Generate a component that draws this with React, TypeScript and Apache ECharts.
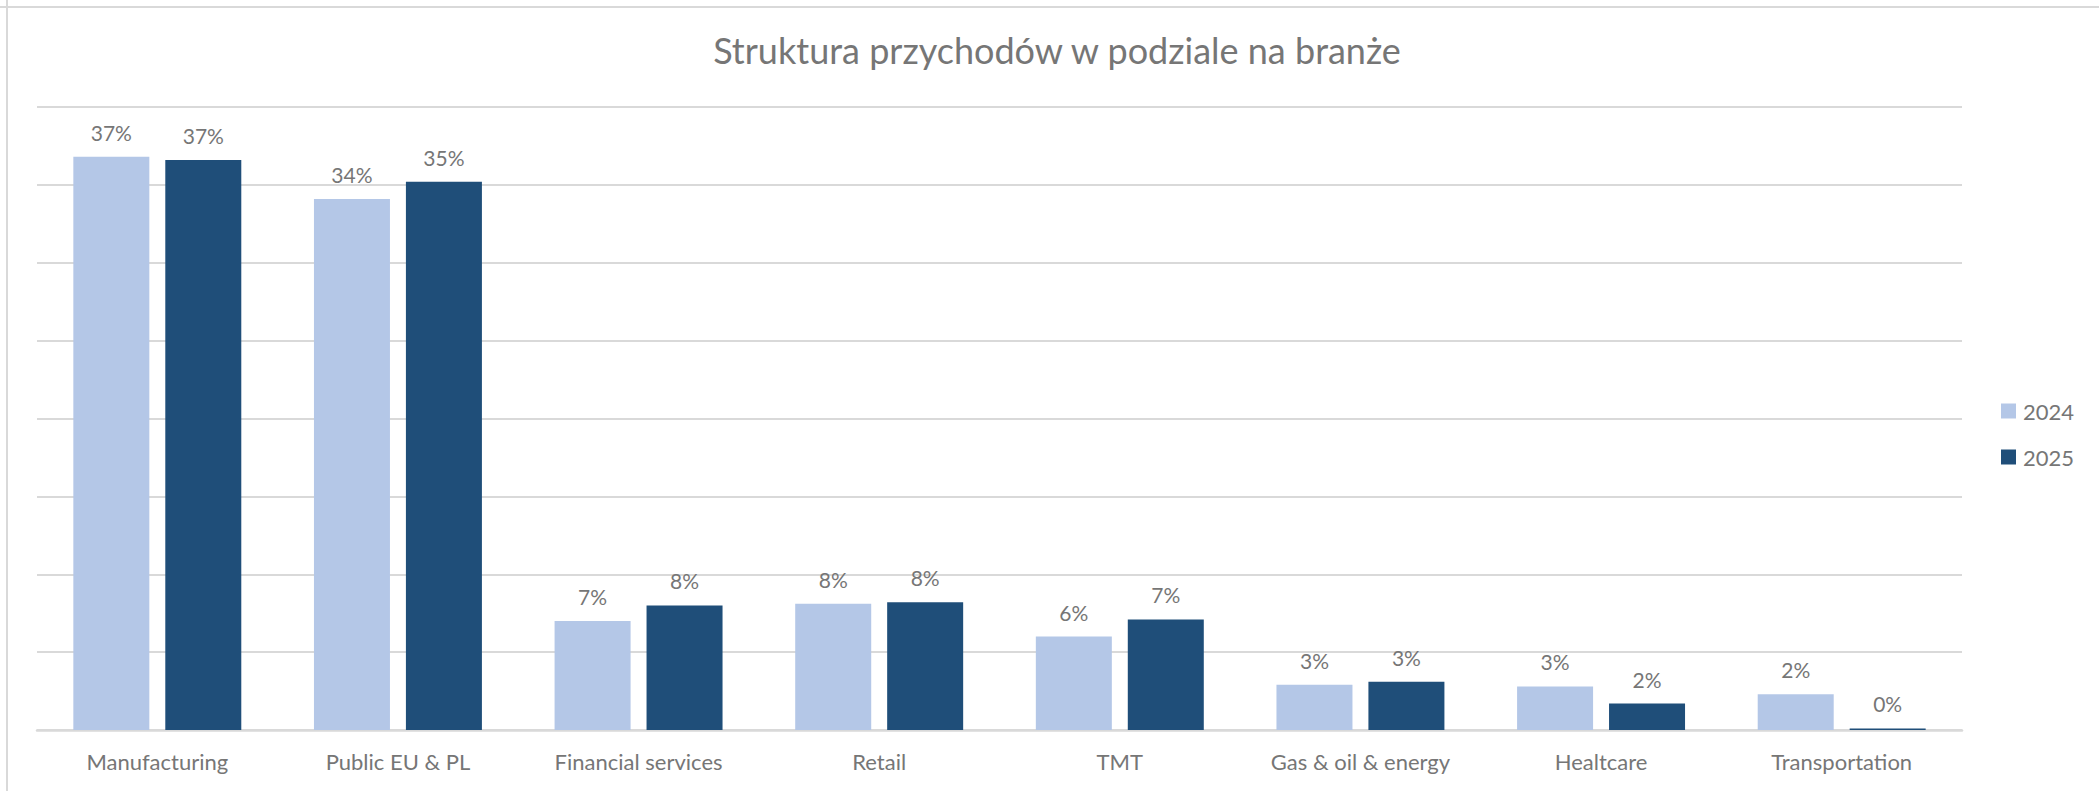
import React, { useEffect, useRef } from "react";
import * as echarts from "echarts";

const categories = [
  "Manufacturing",
  "Public EU & PL",
  "Financial services",
  "Retail",
  "TMT",
  "Gas & oil & energy",
  "Healtcare",
  "Transportation",
];
const values2024 = [36.8, 34.1, 7.0, 8.1, 6.0, 2.9, 2.8, 2.3];
const values2025 = [36.6, 35.2, 8.0, 8.2, 7.1, 3.1, 1.7, 0.1];
const seriesNames = ["2024", "2025"];
const titleText = "Struktura przychodów w podziale na branże";

const FONT = "Lato, 'Open Sans', sans-serif";
const TEXT = "#767676";

export default function App() {
  const ref = useRef<HTMLDivElement>(null);
  useEffect(() => {
    if (!ref.current) return;
    const chart = echarts.init(ref.current, undefined, { renderer: "svg" });
    const labelCfg = {
      show: true,
      position: "top",
      distance: 14,
      color: TEXT,
      fontFamily: FONT,
      fontSize: 21,
      formatter: (p: any) => Math.round(p.value) + "%",
    };
    chart.setOption({
      animation: false,
      backgroundColor: "#ffffff",
      title: {
        text: titleText,
        left: 1052,
        textAlign: "center",
        top: 27,
        textStyle: { color: TEXT, fontFamily: FONT, fontSize: 36, fontWeight: "normal" },
      },
      legend: {
        orient: "vertical",
        left: 1996,
        top: 395,
        itemWidth: 15,
        itemHeight: 15,
        itemGap: 24,
        icon: "rect",
        textStyle: { color: TEXT, fontFamily: FONT, fontSize: 22, padding: [0, 0, 0, 2] },
        data: seriesNames,
      },
      grid: { left: 37, right: 137, top: 107, bottom: 61, containLabel: false },
      xAxis: {
        type: "category",
        data: categories,
        axisLine: { lineStyle: { color: "#d9d9d9", width: 2.5 } },
        axisTick: { show: false },
        axisLabel: { color: TEXT, fontFamily: FONT, fontSize: 22, margin: 20, interval: 0 },
      },
      yAxis: {
        type: "value",
        min: 0,
        max: 40,
        interval: 5,
        axisLabel: { show: false },
        axisLine: { show: false },
        axisTick: { show: false },
        splitLine: { lineStyle: { color: "#d9d9d9", width: 2 } },
      },
      graphic: [
        { type: "line", shape: { x1: 7, y1: 0, x2: 7, y2: 791 }, style: { stroke: "#d9d9d9", lineWidth: 2 } },
        { type: "line", shape: { x1: 0, y1: 7, x2: 2099, y2: 7 }, style: { stroke: "#d9d9d9", lineWidth: 2 } },
      ],
      series: [
        {
          name: seriesNames[0],
          type: "bar",
          data: values2024,
          barWidth: 76,
          barGap: "21%",
          itemStyle: { color: "#b4c7e7" },
          label: labelCfg,
        },
        {
          name: seriesNames[1],
          type: "bar",
          data: values2025,
          barWidth: 76,
          barGap: "21%",
          itemStyle: { color: "#1f4e79" },
          label: labelCfg,
        },
      ],
    });
    return () => chart.dispose();
  }, []);
  return (
    <div
      ref={ref}
      style={{ position: "absolute", left: 0, top: 0, width: 2099, height: 791 }}
    />
  );
}
